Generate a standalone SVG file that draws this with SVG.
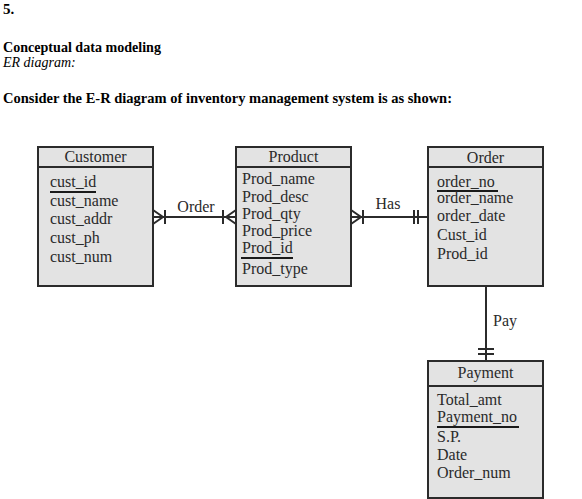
<svg xmlns="http://www.w3.org/2000/svg" width="582" height="499" viewBox="0 0 582 499">
<style>
.h{font-family:"Liberation Serif","Times New Roman",serif;font-size:15px;font-weight:bold;fill:#000}
.i{font-family:"Liberation Serif","Times New Roman",serif;font-size:14px;font-style:italic;fill:#000}
.t{font-family:"Liberation Serif","Times New Roman",serif;font-size:16px;fill:#2a2a2a}
.box{fill:#e3e3e3;stroke:#2b2b2b;stroke-width:2}
.ln{stroke:#2b2b2b;stroke-width:2;fill:none}
.ul{stroke:#1a1a1a;stroke-width:2}
</style>
<rect width="582" height="499" fill="#fff"/>
<text class="h" x="3" y="14">5.</text>
<text class="h" x="3" y="52" textLength="158" lengthAdjust="spacingAndGlyphs">Conceptual data modeling</text>
<text class="i" x="3" y="67">ER diagram:</text>
<text class="h" x="3" y="103" textLength="449" lengthAdjust="spacingAndGlyphs">Consider the E-R diagram of inventory management system is as shown:</text>

<g id="customer">
<rect class="box" x="38" y="147" width="115" height="139"/>
<line class="ln" x1="38" y1="167" x2="153" y2="167"/>
<text class="t" x="95.5" y="162" text-anchor="middle">Customer</text>
<text class="t" x="50" y="187">cust_id</text>
<line class="ul" x1="50" y1="192" x2="96" y2="192"/>
<text class="t" x="50" y="206">cust_name</text>
<text class="t" x="50" y="224">cust_addr</text>
<text class="t" x="50" y="243">cust_ph</text>
<text class="t" x="50" y="262">cust_num</text>
</g>

<g id="product">
<rect class="box" x="236" y="147" width="115" height="139"/>
<line class="ln" x1="236" y1="167" x2="351" y2="167"/>
<text class="t" x="293.5" y="162" text-anchor="middle">Product</text>
<text class="t" x="242" y="184">Prod_name</text>
<text class="t" x="242" y="202">Prod_desc</text>
<text class="t" x="242" y="219">Prod_qty</text>
<text class="t" x="242" y="236">Prod_price</text>
<text class="t" x="242" y="253">Prod_id</text>
<line class="ul" x1="241" y1="258" x2="293" y2="258"/>
<text class="t" x="242" y="274">Prod_type</text>
</g>

<g id="order">
<rect class="box" x="428" y="147" width="115" height="139"/>
<line class="ln" x1="428" y1="167" x2="543" y2="167"/>
<text class="t" x="485.5" y="163" text-anchor="middle">Order</text>
<text class="t" x="437" y="187">order_no</text>
<line class="ul" x1="437" y1="191" x2="498" y2="191"/>
<text class="t" x="437" y="203">order_name</text>
<text class="t" x="437" y="221">order_date</text>
<text class="t" x="437" y="240">Cust_id</text>
<text class="t" x="437" y="259">Prod_id</text>
</g>

<g id="payment">
<rect class="box" x="428" y="361" width="115" height="137"/>
<line class="ln" x1="428" y1="386" x2="543" y2="386"/>
<text class="t" x="485.5" y="378" text-anchor="middle">Payment</text>
<text class="t" x="437" y="405">Total_amt</text>
<text class="t" x="437" y="422">Payment_no</text>
<line class="ul" x1="437" y1="427" x2="519" y2="427"/>
<text class="t" x="437" y="442">S.P.</text>
<text class="t" x="437" y="460">Date</text>
<text class="t" x="437" y="478">Order_num</text>
</g>

<g id="connectors">
<line class="ln" x1="153" y1="217" x2="236" y2="217"/>
<polyline class="ln" points="153,210 163,217 153,224"/>
<line class="ln" x1="165" y1="210" x2="165" y2="224"/>
<line class="ln" x1="223" y1="210" x2="223" y2="224"/>
<polyline class="ln" points="236,210 226,217 236,224"/>
<text class="t" x="196" y="212" text-anchor="middle">Order</text>

<line class="ln" x1="351" y1="217" x2="428" y2="217"/>
<polyline class="ln" points="351,210 361,217 351,224"/>
<line class="ln" x1="363" y1="210" x2="363" y2="224"/>
<line class="ln" x1="414" y1="210" x2="414" y2="224"/>
<line class="ln" x1="418" y1="210" x2="418" y2="224"/>
<text class="t" x="388" y="209" text-anchor="middle">Has</text>

<line class="ln" x1="486" y1="286" x2="486" y2="361"/>
<line class="ln" x1="478" y1="349" x2="494" y2="349"/>
<line class="ln" x1="478" y1="354" x2="494" y2="354"/>
<text class="t" x="493" y="326">Pay</text>
</g>
</svg>
